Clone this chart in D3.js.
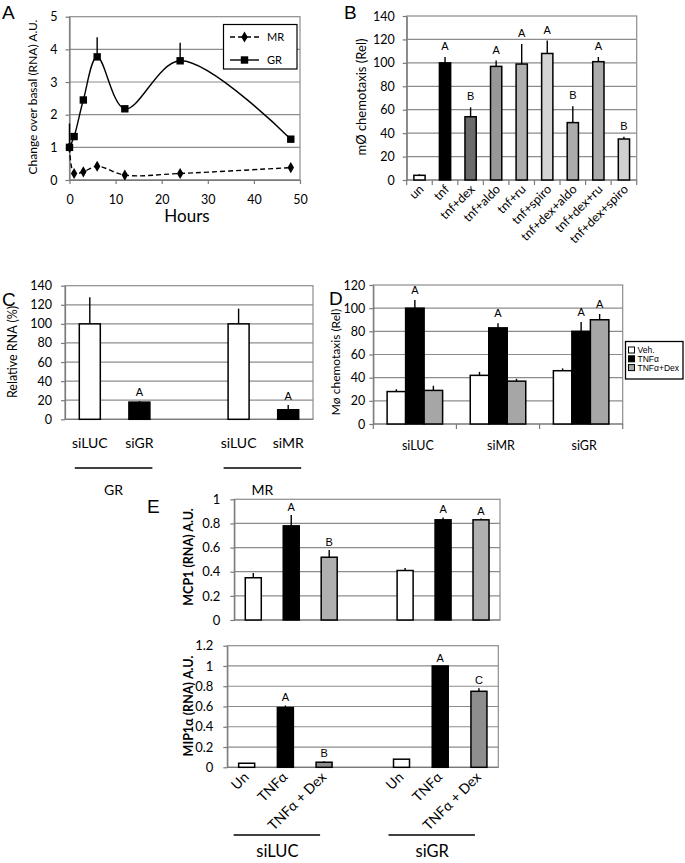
<!DOCTYPE html>
<html><head><meta charset="utf-8">
<script src="https://cdn.jsdelivr.net/npm/d3@7"></script>
<style>body{margin:0;background:#fff}svg{display:block}</style>
</head><body><svg id="c" width="685" height="863"></svg>
<script>
// ---------- DATA ----------
const aHours = [0, 1, 3, 6, 12, 24, 48];
const aGR = [1.0, 1.33, 2.45, 3.77, 2.18, 3.65, 1.25];
const aGRErr = [1.73, null, null, 4.37, null, 4.2, null];
const aMR = [1.0, 0.2, 0.25, 0.42, 0.15, 0.2, 0.38];
const aYTicks = [0, 1, 2, 3, 4, 5];
const aXTicks = [0, 10, 20, 30, 40, 50];
const aSeries = ["MR", "GR"];

const bCats = ["un", "tnf", "tnf+dex", "tnf+aldo", "tnf+ru", "tnf+spiro", "tnf+dex+aldo", "tnf+dex+ru", "tnf+dex+spiro"];
const bVals = [4, 100, 54, 97, 99, 108, 49, 101, 35];
const bErr = [5, 105, 62, 102, 116, 119, 63, 105, 37];
const bLetters = ["", "A", "B", "A", "A", "A", "B", "A", "B"];
const bYTicks = [0, 20, 40, 60, 80, 100, 120, 140];

const cCats = ["siLUC", "siGR", "", "siLUC", "siMR"];
const cVals = [100, 18, null, 100, 10];
const cErr = [128, 19, null, 116, 15];
const cLetters = ["", "A", "", "", "A"];
const cGroups = ["GR", "MR"];
const cYTicks = [0, 20, 40, 60, 80, 100, 120, 140];

const dGroups = ["siLUC", "siMR", "siGR"];
const dSeries = ["Veh.", "TNFα", "TNFα+Dex"];
const dVeh = [28, 42, 46];
const dVehErr = [30, 45, 48];
const dTNF = [100, 83, 80];
const dTNFErr = [107, 87, 88];
const dDex = [29, 37, 90];
const dDexErr = [33, 39, 95];
const dTNFLetters = ["A", "A", "A"];
const dDexLetters = ["", "", "A"];
const dYTicks = [0, 20, 40, 60, 80, 100, 120];

const eCats = ["Un", "TNFα", "TNFα + Dex", "", "Un", "TNFα", "TNFα + Dex"];
const eMCP1 = [0.35, 0.78, 0.52, null, 0.41, 0.83, 0.83];
const eMCP1Err = [0.39, 0.87, 0.58, null, 0.43, 0.85, 0.84];
const eMCP1Letters = ["", "A", "B", "", "", "A", "A"];
const eMCP1Ticks = [0, 0.2, 0.4, 0.6, 0.8, 1];
const eMIP1 = [0.04, 0.59, 0.05, null, 0.08, 1.0, 0.75];
const eMIP1Err = [0.04, 0.61, 0.06, null, 0.08, 1.0, 0.78];
const eMIP1Letters = ["", "A", "B", "", "", "A", "C"];
const eMIP1Ticks = [0, 0.2, 0.4, 0.6, 0.8, 1, 1.2];
const eGroups = ["siLUC", "siGR"];

// ---------- STYLE ----------
const FONT = "Lato, 'Open Sans', sans-serif";
const ARIAL = "'Liberation Sans', Arial, sans-serif";
const GRID = "#8c8c8c";
const AXIS = "#7a7a7a";
const svg = d3.select("#c");
svg.append("rect").attr("width", 685).attr("height", 863).attr("fill", "#fff");

function frame(x0, x1, y, ticks, fmt, pad, fs) {
  const g = svg.append("g");
  const y0 = y.range()[1], y1 = y.range()[0];
  ticks.slice(1, -1).forEach(t => g.append("line").attr("x1", x0).attr("x2", x1)
    .attr("y1", y(t)).attr("y2", y(t)).attr("stroke", GRID).attr("stroke-width", 1.2));
  g.append("rect").attr("x", x0).attr("y", y0).attr("width", x1 - x0).attr("height", y1 - y0)
    .attr("fill", "none").attr("stroke", GRID).attr("stroke-width", 1.2);
  const ax = g.append("g").attr("transform", `translate(${x0},0)`)
    .call(d3.axisLeft(y).tickValues(ticks).tickSize(4).tickSizeOuter(0).tickPadding(pad).tickFormat(fmt));
  ax.attr("font-family", FONT).attr("font-size", fs || 12.5);
  ax.select(".domain").attr("stroke", AXIS).attr("stroke-width", 1.2);
  ax.selectAll(".tick line").attr("stroke", AXIS).attr("stroke-width", 1.2);
  ax.selectAll(".tick text").attr("fill", "#000");
  g.append("line").attr("x1", x0).attr("x2", x1).attr("y1", y1).attr("y2", y1)
    .attr("stroke", AXIS).attr("stroke-width", 1.2);
  return g;
}
function vLabel(x, y, txt, fs, bold) {
  svg.append("text").attr("transform", `translate(${x},${y}) rotate(-90)`)
    .attr("text-anchor", "middle").attr("font-family", FONT).attr("font-size", fs)
    .attr("font-weight", bold ? "bold" : "normal").text(txt);
}
function panelLetter(x, y, t) {
  svg.append("text").attr("x", x).attr("y", y).attr("font-family", ARIAL)
    .attr("font-size", 19).text(t);
}
function bar(cx, w, y, v, e, fill, letter, off) {
  const yb = y.range()[0];
  if (e != null && e > v) svg.append("line").attr("x1", cx).attr("x2", cx).attr("y1", y(v)).attr("y2", y(e))
    .attr("stroke", "#000").attr("stroke-width", 1.4);
  svg.append("rect").attr("x", cx - w / 2).attr("y", y(v)).attr("width", w).attr("height", yb - y(v))
    .attr("fill", fill).attr("stroke", "#000").attr("stroke-width", 1.5);
  if (letter) svg.append("text").attr("x", cx).attr("y", y(e != null ? e : v) - (off || 6))
    .attr("text-anchor", "middle").attr("font-family", ARIAL).attr("font-size", 11).text(letter);
}

// ---------- PANEL A ----------
{
  const x = d3.scaleLinear([0, 50], [69.5, 300]);
  const y = d3.scaleLinear([0, 5], [180, 16.7]);
  frame(69.5, 300, y, aYTicks, d3.format("d"), 8, 12.5);
  const xa = svg.append("g").attr("transform", "translate(0,180)")
    .call(d3.axisBottom(x).tickValues(aXTicks).tickSize(4).tickSizeOuter(0).tickPadding(11));
  xa.attr("font-family", FONT).attr("font-size", 12.5);
  xa.select(".domain").attr("stroke", AXIS).attr("stroke-width", 1.2);
  xa.selectAll(".tick line").attr("stroke", AXIS).attr("stroke-width", 1.2);
  svg.append("text").attr("x", 187).attr("y", 222).attr("text-anchor", "middle")
    .attr("font-family", FONT).attr("font-size", 17).text("Hours");
  vLabel(37, 97, "Change over basal (RNA) A.U.", 12, false);

  const curve = d3.curveCatmullRom.alpha(0.5);
  const line = d3.line().x((d, i) => x(aHours[i])).y(d => y(d)).curve(curve);
  svg.append("path").attr("d", line(aMR)).attr("fill", "none").attr("stroke", "#000")
    .attr("stroke-width", 1.4).attr("stroke-dasharray", "5,3");
  aGRErr.forEach((e, i) => { if (e != null) svg.append("line").attr("x1", x(aHours[i])).attr("x2", x(aHours[i]))
    .attr("y1", y(aGR[i])).attr("y2", y(e)).attr("stroke", "#000").attr("stroke-width", 1.4); });
  svg.append("path").attr("d", line(aGR)).attr("fill", "none").attr("stroke", "#000").attr("stroke-width", 1.4);
  svg.selectAll(".mr").data(aMR).join("path").attr("d", d3.symbol(d3.symbolDiamond, 36)())
    .attr("transform", (d, i) => `translate(${x(aHours[i])},${y(d)})`).attr("fill", "#000");
  svg.selectAll(".gr").data(aGR).join("rect").attr("x", (d, i) => x(aHours[i]) - 3.7)
    .attr("y", d => y(d) - 3.7).attr("width", 7.4).attr("height", 7.4).attr("fill", "#000");
  // legend
  svg.append("rect").attr("x", 223.5).attr("y", 24.5).attr("width", 73.5).attr("height", 44.5)
    .attr("fill", "#fff").attr("stroke", "#000").attr("stroke-width", 1.2);
  aSeries.forEach((s, i) => {
    const ly = i === 0 ? 37 : 60;
    svg.append("line").attr("x1", 230).attr("x2", 259).attr("y1", ly).attr("y2", ly)
      .attr("stroke", "#000").attr("stroke-width", 1.4).attr("stroke-dasharray", i === 0 ? "5,3" : null);
    if (i === 0) svg.append("path").attr("d", d3.symbol(d3.symbolDiamond, 36)()).attr("transform", `translate(244.5,${ly})`);
    else svg.append("rect").attr("x", 240.8).attr("y", ly - 3.7).attr("width", 7.4).attr("height", 7.4);
    svg.append("text").attr("x", 267).attr("y", ly + 4).attr("font-family", FONT).attr("font-size", 11).text(s);
  });
  panelLetter(2, 19, "A");
}

// ---------- PANEL B ----------
{
  const x = d3.scaleBand(bCats, [406.7, 636.7]);
  const y = d3.scaleLinear([0, 140], [180, 16]);
  frame(406.7, 636.7, y, bYTicks, d3.format("d"), 8, 12.5);
  const bw = x.bandwidth();
  bCats.concat([null]).forEach((c, i) => {
    const xx = c == null ? 636.7 : x(c);
    svg.append("line").attr("x1", xx).attr("x2", xx).attr("y1", 180).attr("y2", 185)
      .attr("stroke", AXIS).attr("stroke-width", 1.2);
  });
  const colors = ["#ffffff", "#000000", "#6b6b6b", "#979797", "#b0b0b0", "#d4d4d4", "#ababab", "#ababab", "#d0d0d0"];
  bCats.forEach((c, i) => {
    bar(x(c) + bw / 2, bw * 0.44, y, bVals[i], bErr[i], colors[i], bLetters[i], 7);
    svg.append("text").attr("transform", `translate(${x(c) + bw / 2 + 5},190) rotate(-45)`)
      .attr("text-anchor", "end").attr("font-family", FONT).attr("font-size", 12.5).text(c);
  });
  vLabel(366, 97, "mØ chemotaxis (Rel)", 13, false);
  panelLetter(344, 19, "B");
}

// ---------- PANEL C ----------
{
  const x = d3.scaleBand(d3.range(cCats.length), [65, 313]);
  const y = d3.scaleLinear([0, 140], [419.3, 285.7]);
  frame(65, 313, y, cYTicks, d3.format("d"), 9, 12.5);
  const bw = x.bandwidth();
  cCats.forEach((c, i) => {
    const cx = x(i) + bw / 2;
    if (cVals[i] != null) bar(cx, 21, y, cVals[i], cErr[i], i % 3 === 0 ? "#fff" : "#000", cLetters[i], 5);
    if (c) svg.append("text").attr("x", cx).attr("y", 448).attr("text-anchor", "middle")
      .attr("font-family", FONT).attr("font-size", 14).text(c);
  });
  cGroups.forEach((g, k) => {
    const a = x(k * 3) + bw / 2, b = x(k * 3 + 1) + bw / 2;
    svg.append("line").attr("x1", a - 15).attr("x2", b + 13).attr("y1", 468).attr("y2", 468)
      .attr("stroke", "#000").attr("stroke-width", 1.5);
    svg.append("text").attr("x", (a + b) / 2 - 1).attr("y", 495).attr("text-anchor", "middle")
      .attr("font-family", FONT).attr("font-size", 14).text(g);
  });
  vLabel(17, 352, "Relative RNA (%)", 12.5, false);
  panelLetter(2, 306, "C");
}

// ---------- PANEL D ----------
{
  const x = d3.scaleBand(dGroups, [373.3, 622.7]);
  const y = d3.scaleLinear([0, 120], [424, 285]);
  frame(373.3, 622.7, y, dYTicks, d3.format("d"), 4, 12.5);
  const bw = x.bandwidth();
  dGroups.concat([null]).forEach(c => {
    const xx = c == null ? 622.7 : x(c);
    svg.append("line").attr("x1", xx).attr("x2", xx).attr("y1", 424).attr("y2", 429)
      .attr("stroke", AXIS).attr("stroke-width", 1.2);
  });
  const cols = ["#ffffff", "#000000", "#a6a6a6"];
  const vals = [dVeh, dTNF, dDex], errs = [dVehErr, dTNFErr, dDexErr];
  const lets = [["", "", ""], dTNFLetters, dDexLetters];
  const w = 18.5;
  dGroups.forEach((g, gi) => {
    const c0 = x(g) + bw / 2;
    [0, 1, 2].forEach(s => bar(c0 + (s - 1) * w, w, y, vals[s][gi], errs[s][gi], cols[s], lets[s][gi], 6));
    svg.append("text").attr("x", c0 + 3).attr("y", 450).attr("text-anchor", "middle")
      .attr("font-family", FONT).attr("font-size", 12.5).text(g);
  });
  // legend
  svg.append("rect").attr("x", 625.5).attr("y", 341.5).attr("width", 57.5).attr("height", 37.5)
    .attr("fill", "#fff").attr("stroke", "#000").attr("stroke-width", 1.3);
  dSeries.forEach((s, i) => {
    const ly = 350 + i * 8.8;
    svg.append("rect").attr("x", 628.5).attr("y", ly - 3).attr("width", 6).attr("height", 6)
      .attr("fill", cols[i]).attr("stroke", "#000").attr("stroke-width", 1);
    svg.append("text").attr("x", 637.5).attr("y", ly + 3).attr("font-family", ARIAL)
      .attr("font-size", 8.5).text(s);
  });
  vLabel(340, 362, "Mø chemotaxis (Rel)", 12, false);
  panelLetter(329, 305, "D");
}

// ---------- PANEL E ----------
function ePanel(x0, x1, yTop, yBot, max, ticks, vals, errs, lets, label, labelY, dexCol, withX) {
  const x = d3.scaleBand(d3.range(eCats.length), [x0, x1]);
  const y = d3.scaleLinear([0, max], [yBot, yTop]);
  frame(x0, x1, y, ticks, d => d === 0 ? "0" : d3.format("~g")(d), 10, 13);
  const bw = x.bandwidth();
  const cols = ["#ffffff", "#000000", dexCol];
  eCats.forEach((c, i) => {
    const cx = x(i) + bw / 2;
    if (vals[i] != null) bar(cx, 16, y, vals[i], errs[i], cols[i % 4], lets[i], 4);
    if (withX && c) svg.append("text").attr("transform", `translate(${cx + 3},778) rotate(-45)`)
      .attr("text-anchor", "end").attr("font-family", FONT).attr("font-size", 14).text(c);
  });
  vLabel(193, labelY, label, 12.5, true);
  return x;
}
ePanel(234.3, 500, 499.3, 620, 1, eMCP1Ticks, eMCP1, eMCP1Err, eMCP1Letters, "MCP1 (RNA) A.U.", 557, "#b0b0b0", false);
{
  const x = ePanel(227.3, 498.3, 645.7, 767.3, 1.2, eMIP1Ticks, eMIP1, eMIP1Err, eMIP1Letters, "MIP1α (RNA) A.U.", 706, "#8e8e8e", true);
  const bw = x.bandwidth();
  eGroups.forEach((g, k) => {
    const a = x(k * 4) + bw / 2, b = x(k * 4 + 2) + bw / 2;
    svg.append("line").attr("x1", a - 13).attr("x2", b - 4).attr("y1", 835).attr("y2", 835)
      .attr("stroke", "#000").attr("stroke-width", 1.4);
    svg.append("text").attr("x", (a + b) / 2 - 8).attr("y", 857).attr("text-anchor", "middle")
      .attr("font-family", FONT).attr("font-size", 16.5).text(g);
  });
}
panelLetter(147, 513, "E");
</script></body></html>
